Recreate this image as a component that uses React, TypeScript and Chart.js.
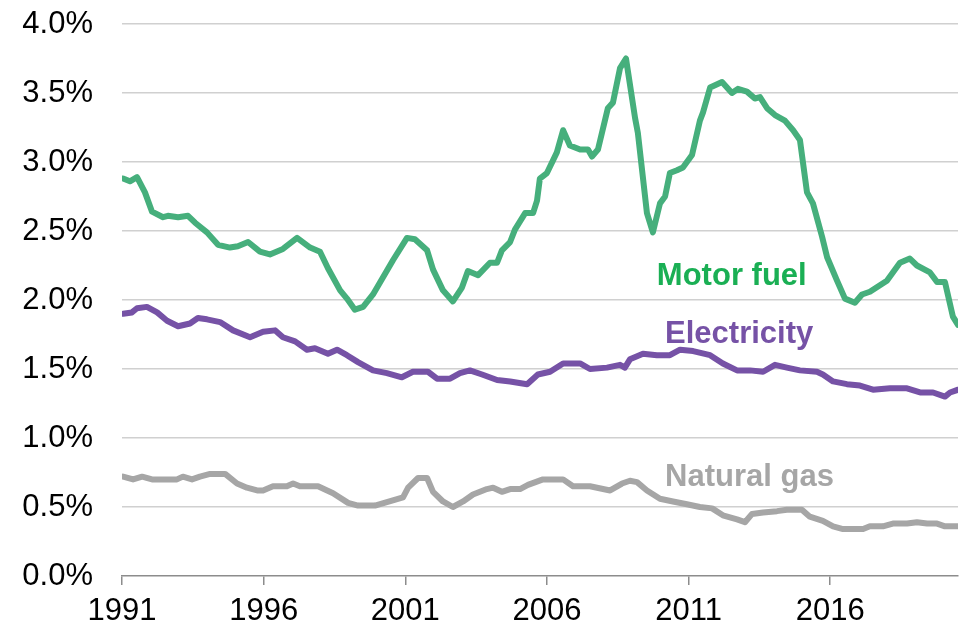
import React, { useEffect, useRef } from "react";
import { Chart, registerables } from "chart.js";

Chart.register(...registerables);

// ---- Data (years as decimal, values in %) ----
const motorFuelYears = [
  1991.04, 1991.28, 1991.53, 1991.81, 1992.06, 1992.45, 1992.62, 1992.98, 1993.33, 1993.58,
  1994.0, 1994.39, 1994.81, 1995.09, 1995.45, 1995.87, 1996.22, 1996.68, 1997.18, 1997.64,
  1997.99, 1998.27, 1998.7, 1998.94, 1999.22, 1999.51, 1999.86, 2000.57, 2001.06, 2001.34,
  2001.77, 2001.98, 2002.33, 2002.68, 2003.0, 2003.21, 2003.57, 2003.99, 2004.24, 2004.41,
  2004.7, 2004.87, 2005.23, 2005.51, 2005.65, 2005.75, 2006.0, 2006.35, 2006.57, 2006.81,
  2007.17, 2007.45, 2007.59, 2007.8, 2008.15, 2008.33, 2008.58, 2008.79, 2009.11, 2009.21,
  2009.53, 2009.74, 2009.99, 2010.17, 2010.34, 2010.59, 2010.8, 2011.12, 2011.4, 2011.51,
  2011.76, 2012.18, 2012.53, 2012.74, 2013.06, 2013.34, 2013.52, 2013.77, 2014.05, 2014.4,
  2014.69, 2014.93, 2015.18, 2015.39, 2015.71, 2015.89, 2016.24, 2016.52, 2016.87, 2017.12,
  2017.4, 2018.0, 2018.46, 2018.81, 2019.06, 2019.52, 2019.77, 2020.05, 2020.33, 2020.51,
];
const motorFuelValues = [
  2.88, 2.86, 2.89, 2.78, 2.64, 2.6, 2.61, 2.6, 2.61, 2.56,
  2.49, 2.4, 2.38, 2.39, 2.42, 2.35, 2.33, 2.37, 2.45, 2.38,
  2.35, 2.23, 2.07, 2.01, 1.93, 1.95, 2.04, 2.29, 2.45, 2.44,
  2.36, 2.22, 2.07, 1.99, 2.09, 2.21, 2.18, 2.27, 2.27, 2.36,
  2.42, 2.51, 2.63, 2.63, 2.72, 2.88, 2.92, 3.07, 3.23, 3.12,
  3.09, 3.09, 3.04, 3.09, 3.39, 3.43, 3.68, 3.75, 3.32, 3.21,
  2.63, 2.49, 2.7, 2.75, 2.92, 2.94, 2.96, 3.05, 3.3, 3.36,
  3.54, 3.58, 3.5, 3.53, 3.51, 3.46, 3.47, 3.39, 3.34, 3.3,
  3.23, 3.16, 2.78, 2.7, 2.46, 2.31, 2.14, 2.01, 1.98, 2.04,
  2.06, 2.14, 2.27, 2.3, 2.25, 2.2, 2.13, 2.13, 1.88, 1.82,
];

const electricityYears = [
  1991.04, 1991.35, 1991.53, 1991.88, 1992.24, 1992.59, 1992.98, 1993.4, 1993.68, 1994.0,
  1994.46, 1994.92, 1995.52, 1995.98, 1996.4, 1996.68, 1997.11, 1997.53, 1997.81, 1998.27,
  1998.59, 1998.94, 1999.33, 1999.86, 2000.35, 2000.88, 2001.27, 2001.8, 2002.12, 2002.58,
  2002.93, 2003.28, 2003.71, 2004.24, 2004.7, 2005.3, 2005.68, 2006.11, 2006.57, 2007.17,
  2007.52, 2008.12, 2008.58, 2008.75, 2008.93, 2009.39, 2009.88, 2010.34, 2010.7, 2011.16,
  2011.76, 2012.21, 2012.71, 2013.17, 2013.63, 2014.05, 2014.47, 2014.93, 2015.53, 2015.74,
  2016.1, 2016.59, 2017.05, 2017.51, 2018.11, 2018.71, 2019.17, 2019.63, 2020.05, 2020.23,
  2020.51,
];
const electricityValues = [
  1.9, 1.91, 1.94, 1.95, 1.91, 1.85, 1.81, 1.83, 1.87, 1.86,
  1.84, 1.78, 1.73, 1.77, 1.78, 1.73, 1.7, 1.64, 1.65, 1.61,
  1.64, 1.6, 1.55, 1.49, 1.47, 1.44, 1.48, 1.48, 1.43, 1.43,
  1.47, 1.49, 1.46, 1.42, 1.41, 1.39, 1.46, 1.48, 1.54, 1.54,
  1.5, 1.51, 1.53, 1.51, 1.57, 1.61, 1.6, 1.6, 1.64, 1.63,
  1.6, 1.54, 1.49, 1.49, 1.48, 1.53, 1.51, 1.49, 1.48, 1.46,
  1.41, 1.39, 1.38, 1.35, 1.36, 1.36, 1.33, 1.33, 1.3, 1.33,
  1.35,
];

const naturalGasYears = [
  1991.04, 1991.39, 1991.71, 1992.06, 1992.94, 1993.15, 1993.47, 1993.75, 1994.11, 1994.64,
  1995.06, 1995.41, 1995.77, 1995.98, 1996.33, 1996.82, 1997.04, 1997.28, 1997.92, 1998.45,
  1998.98, 1999.33, 1999.93, 2000.92, 2001.1, 2001.45, 2001.77, 2001.98, 2002.33, 2002.68,
  2003.04, 2003.39, 2003.88, 2004.1, 2004.41, 2004.7, 2005.05, 2005.33, 2005.86, 2006.57,
  2006.92, 2007.52, 2008.23, 2008.65, 2008.93, 2009.18, 2009.53, 2009.99, 2010.45, 2010.94,
  2011.4, 2011.83, 2012.21, 2012.71, 2012.99, 2013.24, 2013.63, 2014.12, 2014.47, 2015.0,
  2015.28, 2015.74, 2016.1, 2016.45, 2017.16, 2017.4, 2017.86, 2018.21, 2018.71, 2019.06,
  2019.42, 2019.77, 2020.05, 2020.51,
];
const naturalGasValues = [
  0.72, 0.7, 0.72, 0.7, 0.7, 0.72, 0.7, 0.72, 0.74, 0.74,
  0.67, 0.64, 0.62, 0.62, 0.65, 0.65, 0.67, 0.65, 0.65, 0.6,
  0.53, 0.51, 0.51, 0.57, 0.64, 0.71, 0.71, 0.61, 0.54, 0.5,
  0.54, 0.59, 0.63, 0.64, 0.61, 0.63, 0.63, 0.66, 0.7, 0.7,
  0.65, 0.65, 0.62, 0.67, 0.69, 0.68, 0.62, 0.56, 0.54, 0.52,
  0.5, 0.49, 0.44, 0.41, 0.39, 0.45, 0.46, 0.47, 0.48, 0.48,
  0.43, 0.4, 0.36, 0.34, 0.34, 0.36, 0.36, 0.38, 0.38, 0.39,
  0.38, 0.38, 0.36, 0.36,
];

const xTickYears = [1991, 1996, 2001, 2006, 2011, 2016];

// Inline series labels
const labelNames = ["Motor fuel", "Electricity", "Natural gas"];
const labelYears = [2009.88, 2010.17, 2010.17];
const labelValues = [2.11, 1.69, 0.65];
const labelColors = ["#1aaf54", "#7652a6", "#a6a6a6"];

const lineColors = ["#46af7c", "#7652a6", "#a6a6a6"];

const FONT = "'Liberation Sans', Arial, sans-serif";

function toPoints(xs: number[], ys: number[]) {
  return xs.map((x, i) => ({ x, y: ys[i] }));
}

const inlineLabels = {
  id: "inlineLabels",
  afterDatasetsDraw(chart: any) {
    const { ctx, scales } = chart;
    ctx.save();
    ctx.font = `bold 31px ${FONT}`;
    ctx.textAlign = "left";
    ctx.textBaseline = "alphabetic";
    labelNames.forEach((name, i) => {
      const px = scales.x.getPixelForValue(labelYears[i]);
      const py = scales.y.getPixelForValue(labelValues[i]);
      ctx.fillStyle = labelColors[i];
      ctx.fillText(name, px, py);
    });
    ctx.restore();
  },
};

export default function App() {
  const canvasRef = useRef<HTMLCanvasElement | null>(null);

  useEffect(() => {
    if (!canvasRef.current) return;
    const ds = (label: string, xs: number[], ys: number[], color: string) => ({
      label,
      data: toPoints(xs, ys),
      borderColor: color,
      backgroundColor: color,
      borderWidth: 6,
      pointRadius: 0,
      tension: 0,
      borderJoinStyle: "round" as const,
      borderCapStyle: "round" as const,
    });
    const chart = new Chart(canvasRef.current, {
      type: "line",
      data: {
        datasets: [
          ds("Natural gas", naturalGasYears, naturalGasValues, lineColors[2]),
          ds("Electricity", electricityYears, electricityValues, lineColors[1]),
          ds("Motor fuel", motorFuelYears, motorFuelValues, lineColors[0]),
        ],
      },
      options: {
        animation: false,
        responsive: false,
        layout: { padding: { top: 24, right: 8, left: 0, bottom: 0 } },
        plugins: { legend: { display: false }, tooltip: { enabled: false } },
        scales: {
          x: {
            type: "linear",
            min: 1991,
            max: 2020.51,
            afterBuildTicks: (scale: any) => {
              scale.ticks = xTickYears.map((v) => ({ value: v }));
            },
            afterFit: (scale: any) => {
              scale.height = 51;
              scale.paddingLeft = 0;
              scale.paddingRight = 0;
            },
            border: { display: true, color: "#8c8c8c", width: 1.5 },
            grid: {
              drawOnChartArea: false,
              drawTicks: true,
              tickLength: 9,
              color: "#8c8c8c",
              lineWidth: 1.5,
            },
            ticks: {
              color: "#000",
              font: { family: FONT, size: 31 },
              padding: 8,
              maxRotation: 0,
              autoSkip: false,
              callback: (v: any) => String(v),
            },
          },
          y: {
            min: 0,
            max: 4,
            afterFit: (scale: any) => {
              scale.width = 122;
              scale.paddingTop = 0;
              scale.paddingBottom = 0;
            },
            border: { display: false },
            grid: {
              drawTicks: false,
              color: (c: any) => (c.tick && c.tick.value === 0 ? "rgba(0,0,0,0)" : "#d0d0d0"),
              lineWidth: 1.5,
            },
            ticks: {
              stepSize: 0.5,
              color: "#000",
              font: { family: FONT, size: 31 },
              padding: 29,
              callback: (v: any) => Number(v).toFixed(1) + "%",
            },
          },
        },
      },
      plugins: [inlineLabels],
    });
    return () => chart.destroy();
  }, []);

  return (
    <div style={{ position: "fixed", left: 0, top: 0, width: 966, height: 627, background: "#fff" }}>
      <canvas ref={canvasRef} width={966} height={627} style={{ display: "block" }} />
    </div>
  );
}
